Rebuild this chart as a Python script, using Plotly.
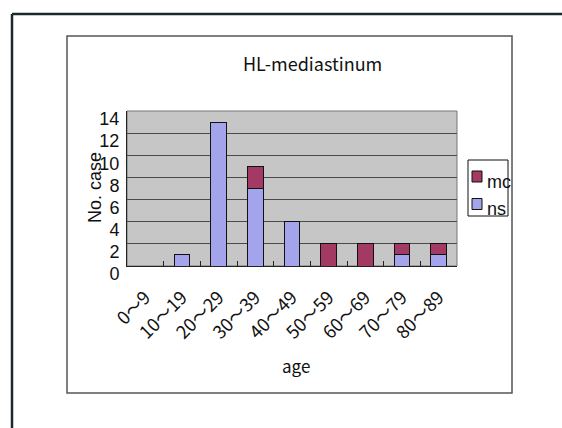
import plotly.graph_objects as go

categories = ["0〜9", "10〜19", "20〜29", "30〜39", "40〜49", "50〜59", "60〜69", "70〜79", "80〜89"]
ns_values = [0, 1, 13, 7, 4, 0, 0, 1, 1]
mc_values = [0, 0, 0, 2, 0, 2, 2, 1, 1]
y_ticks = [0, 2, 4, 6, 8, 10, 12, 14]
series_names = ["mc", "ns"]
series_colors = {"ns": "#a4a4ec", "mc": "#a33a64"}

W, H = 562, 428
L, R, T, B = 127, 457, 111, 266  # plot area in px


def px(x):
    return (x - L) / (R - L)


def py(y):
    return (B - y) / (B - T)


fig = go.Figure()
fig.add_trace(go.Bar(x=categories, y=ns_values, name="ns", width=0.43,
                     marker=dict(color=series_colors["ns"], line=dict(color="#111", width=1))))
fig.add_trace(go.Bar(x=categories, y=mc_values, name="mc", width=0.43,
                     marker=dict(color=series_colors["mc"], line=dict(color="#111", width=1))))

shapes = [
    # outer frame lines
    dict(type="line", xref="paper", yref="paper", x0=px(12), x1=px(12),
         y0=py(14), y1=py(440), line=dict(color="#1a2a2a", width=2.5)),
    dict(type="line", xref="paper", yref="paper", x0=px(12), x1=px(575),
         y0=py(14), y1=py(14), line=dict(color="#1a2a2a", width=2.5)),
    # inner chart box
    dict(type="rect", xref="paper", yref="paper", x0=px(67), x1=px(512),
         y0=py(36), y1=py(393), line=dict(color="#555", width=1.5)),
    # plot area border
    dict(type="rect", xref="paper", yref="paper", x0=0, x1=1, y0=0, y1=1,
         line=dict(color="#777", width=1), layer="below"),
    # legend box
    dict(type="rect", xref="paper", yref="paper", x0=px(468), x1=px(508),
         y0=py(160), y1=py(216), line=dict(color="#111", width=1), fillcolor="white"),
]
annotations = [
    dict(text="HL-mediastinum", xref="paper", yref="paper", x=px(312), y=py(63),
         xanchor="center", yanchor="middle", showarrow=False,
         font=dict(family="Noto Sans CJK JP", size=18, color="#111")),
    dict(text="age", xref="paper", yref="paper", x=px(296), y=py(365),
         xanchor="center", yanchor="middle", showarrow=False,
         font=dict(family="Noto Sans CJK JP", size=17, color="#111")),
    dict(text="No. case", xref="paper", yref="paper", x=px(95), y=py(188),
         xanchor="center", yanchor="middle", textangle=-90, showarrow=False,
         font=dict(family="Liberation Sans", size=18, color="#111")),
]
# legend entries (drawn manually to match the narrow legend box)
legend_rows = {"mc": 176.5, "ns": 204}
for name in series_names:
    cy = legend_rows[name]
    shapes.append(dict(type="rect", xref="paper", yref="paper", x0=px(472), x1=px(482),
                       y0=py(cy - 5.5), y1=py(cy + 5.5),
                       fillcolor=series_colors[name], line=dict(color="#111", width=1)))
    annotations.append(dict(text=name, xref="paper", yref="paper", x=px(485), y=py(cy + 5),
                            xanchor="left", yanchor="middle", showarrow=False,
                            font=dict(family="Liberation Sans", size=18, color="#111")))

fig.update_layout(
    width=W, height=H,
    margin=dict(l=L, r=W - R, t=T, b=H - B, autoexpand=False),
    barmode="stack",
    paper_bgcolor="white",
    plot_bgcolor="#c6c6c6",
    showlegend=False,
    xaxis=dict(type="category", range=[-0.5, 8.5], tickangle=-45,
               tickson="boundaries", ticks="inside", ticklen=5, tickcolor="#222",
               showline=True, linecolor="#222", linewidth=1, mirror=False,
               showgrid=False,
               tickfont=dict(family="Noto Sans CJK JP", size=18, color="#111"),
               ticklabelstandoff=13),
    yaxis=dict(range=[0, 14], tickvals=y_ticks, showgrid=True, gridcolor="#4a4a4a",
               gridwidth=1, zeroline=False, showline=True, linecolor="#222",
               ticks="", tickfont=dict(family="Liberation Sans", size=18, color="#111"),
               ticklabelshift=8, ticklabelstandoff=3),
    shapes=shapes,
    annotations=annotations,
)

fig.write_html("out.html")
